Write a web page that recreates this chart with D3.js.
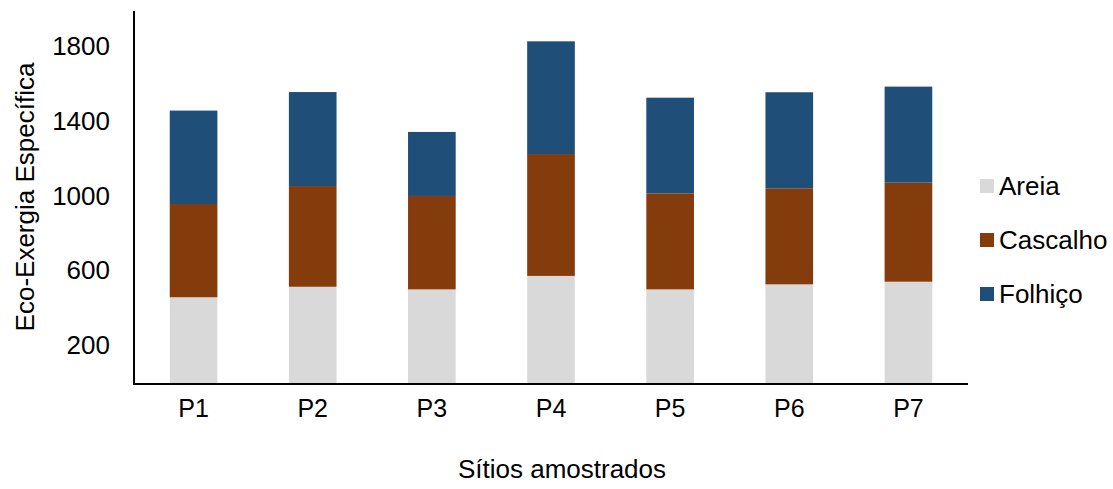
<!DOCTYPE html>
<html><head><meta charset="utf-8">
<script src="https://cdn.jsdelivr.net/npm/d3@7"></script>
<style>body{margin:0;background:#fff;} text{font-family:"Liberation Sans",Arial,sans-serif;fill:#000;}</style>
</head><body><svg id="c" width="1113" height="489"></svg>
<script>
const sites = ["P1","P2","P3","P4","P5","P6","P7"];
const seriesNames = ["Areia","Cascalho","Folhiço"];
const areia    = [458, 514, 500, 572, 500, 527, 541];
const cascalho = [498, 538, 499, 651, 513, 513, 529];
const folhico  = [499, 502, 342, 602, 511, 513, 513];
const yTicks = [200, 600, 1000, 1400, 1800];
const colors = ["#d9d9d9", "#843c0c", "#1f4e79"];

const rows = sites.map((s,i)=>({site:s, "Areia":areia[i], "Cascalho":cascalho[i], "Folhiço":folhico[i]}));
const stack = d3.stack().keys(seriesNames)(rows);

const svg = d3.select("#c");
const x = d3.scaleBand().domain(sites).range([134, 968]).paddingInner(0.6).paddingOuter(0.3);
const y = d3.scaleLinear().domain([0, 1800]).range([383, 46]);

svg.append("g").selectAll("g").data(stack).join("g")
  .attr("fill",(d,i)=>colors[i])
  .selectAll("rect").data(d=>d).join("rect")
  .attr("x",d=>x(d.data.site)).attr("width",x.bandwidth())
  .attr("y",d=>y(d[1])).attr("height",d=>y(d[0])-y(d[1]));

// axes
const yAx = svg.append("g").attr("transform","translate(134,0)")
  .call(d3.axisLeft(y).tickValues(yTicks).tickFormat(d3.format("d")).tickSize(0).tickPadding(24));
yAx.select(".domain").remove();
yAx.selectAll("text").style("font-size","26px").attr("font-family",null);
svg.append("line").attr("x1",134).attr("x2",134).attr("y1",11).attr("y2",384).attr("stroke","#000").attr("stroke-width",2);

const xAx = svg.append("g").attr("transform","translate(0,384)")
  .call(d3.axisBottom(x).tickSize(0).tickPadding(15));
xAx.select(".domain").remove();
xAx.selectAll("text").style("font-size","25px").attr("font-family",null);
svg.append("line").attr("x1",133).attr("x2",968).attr("y1",384).attr("y2",384).attr("stroke","#000").attr("stroke-width",2);

svg.append("text").attr("transform","translate(34,197) rotate(-90)").attr("text-anchor","middle")
  .style("font-size","26px").text("Eco-Exergia Específica");
svg.append("text").attr("x",562).attr("y",478).attr("text-anchor","middle")
  .style("font-size","26px").text("Sítios amostrados");

// legend
const lg = svg.append("g").selectAll("g").data(seriesNames).join("g")
  .attr("transform",(d,i)=>`translate(980,${186 + i*54})`);
lg.append("rect").attr("x",0).attr("y",-7).attr("width",14).attr("height",14).attr("fill",(d,i)=>colors[i]);
lg.append("text").attr("x",19).attr("y",9).style("font-size","26px").text(d=>d);
</script></body></html>
